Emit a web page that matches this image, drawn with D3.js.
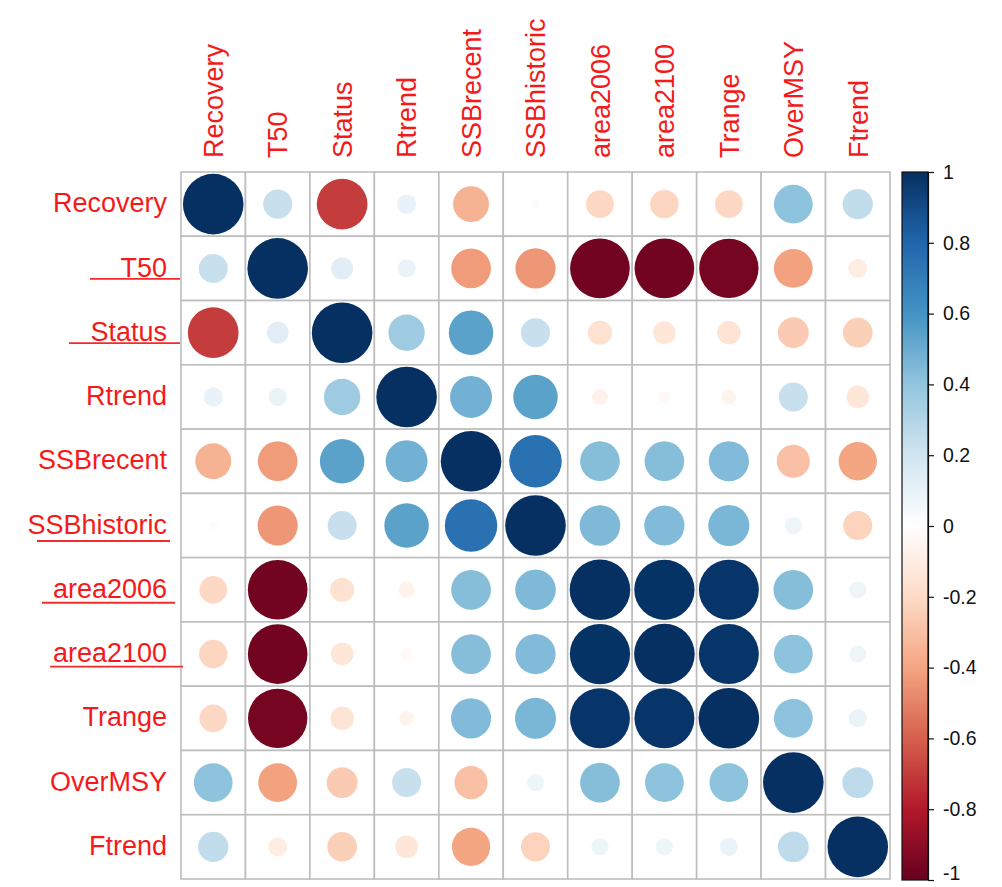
<!DOCTYPE html>
<html>
<head>
<meta charset="utf-8">
<script src="https://cdn.jsdelivr.net/npm/d3@7"></script>
<style>
  html, body { margin: 0; padding: 0; background: #ffffff; }
  svg { display: block; }
</style>
</head>
<body>
<svg id="chart" width="1002" height="887"></svg>
<script>
// Variables of the correlation matrix (row order = column order)
const variables = ["Recovery", "T50", "Status", "Rtrend", "SSBrecent", "SSBhistoric",
                   "area2006", "area2100", "Trange", "OverMSY", "Ftrend"];

// Pearson correlations, one row per variable
const rowRecovery    = [ 1.00,  0.23, -0.70,  0.10, -0.35, -0.02, -0.21, -0.22, -0.21,  0.41,  0.25];
const rowT50         = [ 0.23,  1.00,  0.13,  0.09, -0.43, -0.44, -0.97, -0.97, -0.96, -0.41, -0.10];
const rowStatus      = [-0.70,  0.13,  1.00,  0.36,  0.54,  0.23, -0.16, -0.14, -0.15, -0.26, -0.24];
const rowRtrend      = [ 0.10,  0.09,  0.36,  1.00,  0.48,  0.54, -0.07, -0.04, -0.06,  0.23, -0.14];
const rowSSBrecent   = [-0.35, -0.43,  0.54,  0.48,  1.00,  0.75,  0.43,  0.43,  0.44, -0.30, -0.40];
const rowSSBhistoric = [-0.02, -0.44,  0.23,  0.54,  0.75,  1.00,  0.45,  0.44,  0.46,  0.08, -0.23];
const rowArea2006    = [-0.21, -0.97, -0.16, -0.07,  0.43,  0.45,  1.00,  0.99,  0.98,  0.43,  0.08];
const rowArea2100    = [-0.22, -0.97, -0.14, -0.04,  0.43,  0.44,  0.99,  1.00,  0.98,  0.41,  0.08];
const rowTrange      = [-0.21, -0.96, -0.15, -0.06,  0.44,  0.46,  0.98,  0.98,  1.00,  0.41,  0.09];
const rowOverMSY     = [ 0.41, -0.41, -0.26,  0.23, -0.30,  0.08,  0.43,  0.41,  0.41,  1.00,  0.26];
const rowFtrend      = [ 0.25, -0.10, -0.24, -0.14, -0.40, -0.23,  0.08,  0.08,  0.09,  0.26,  1.00];

const corrRows = [rowRecovery, rowT50, rowStatus, rowRtrend, rowSSBrecent, rowSSBhistoric,
                  rowArea2006, rowArea2100, rowTrange, rowOverMSY, rowFtrend];

// Colour-bar tick labels
const legendTicks = [1, 0.8, 0.6, 0.4, 0.2, 0, -0.2, -0.4, -0.6, -0.8, -1];

// Diverging red-blue palette stops
const paletteStops  = [-1, -0.8, -0.6, -0.4, -0.2, 0, 0.2, 0.4, 0.6, 0.8, 1];
const paletteColors = ["#67001F", "#B2182B", "#D6604D", "#F4A582", "#FDDBC7", "#FFFFFF",
                       "#D1E5F0", "#92C5DE", "#4393C3", "#2166AC", "#053061"];

// Hand-drawn underlines beneath some row labels
const underlined = [
  { name: "T50",         from: 90, to: 180, dy: 10.5 },
  { name: "Status",      from: 69, to: 180, dy: 10.5 },
  { name: "SSBhistoric", from: 37, to: 170, dy: 15.5 },
  { name: "area2006",    from: 42, to: 175, dy: 13 },
  { name: "area2100",    from: 50, to: 183, dy: 12.5 }
];

const cells = [];
corrRows.forEach((row, i) => row.forEach((v, j) => cells.push({ row: variables[i], col: variables[j], value: v })));

const svg = d3.select("#chart");

const gridLeft = 181, gridRight = 890, gridTop = 172, gridBottom = 879;
const x = d3.scaleBand().domain(variables).range([gridLeft, gridRight]);
const y = d3.scaleBand().domain(variables).range([gridTop, gridBottom]);
const color = d3.scaleLinear().domain(paletteStops).range(paletteColors).interpolate(d3.interpolateRgb);
const radius = d => Math.sqrt(Math.abs(d)) * 0.47 * x.bandwidth();

const labelFont = "'Liberation Sans', Arial, Helvetica, sans-serif";

// Cell grid
const grid = svg.append("g");
grid.selectAll("rect")
  .data(cells)
  .join("rect")
  .attr("x", d => x(d.col))
  .attr("y", d => y(d.row))
  .attr("width", x.bandwidth())
  .attr("height", y.bandwidth())
  .attr("fill", "#ffffff")
  .attr("stroke", "#bdbdbd")
  .attr("stroke-width", 1.6);

// Circles: area proportional to |r|, colour by r
svg.append("g").selectAll("circle")
  .data(cells)
  .join("circle")
  .attr("cx", d => x(d.col) + x.bandwidth() / 2)
  .attr("cy", d => y(d.row) + y.bandwidth() / 2)
  .attr("r", d => radius(d.value))
  .attr("fill", d => color(d.value));

// Row labels
svg.append("g").selectAll("text")
  .data(variables)
  .join("text")
  .attr("x", gridLeft - 14)
  .attr("y", d => y(d) + y.bandwidth() / 2)
  .attr("dy", "0.3em")
  .attr("text-anchor", "end")
  .attr("font-family", labelFont)
  .attr("font-size", 27)
  .attr("fill", "#f51a1a")
  .text(d => d);

// Column labels, rotated
svg.append("g").selectAll("text")
  .data(variables)
  .join("text")
  .attr("transform", d => `translate(${x(d) + x.bandwidth() / 2},${gridTop - 14}) rotate(-90)`)
  .attr("dy", "0.36em")
  .attr("text-anchor", "start")
  .attr("font-family", labelFont)
  .attr("font-size", 27)
  .attr("fill", "#f51a1a")
  .text(d => d);

// Underlines
svg.append("g").selectAll("line")
  .data(underlined)
  .join("line")
  .attr("x1", d => d.from)
  .attr("x2", d => d.to)
  .attr("y1", d => y(d.name) + y.bandwidth() / 2 + d.dy)
  .attr("y2", d => y(d.name) + y.bandwidth() / 2 + d.dy)
  .attr("stroke", "#f52a2a")
  .attr("stroke-width", 1.8);

// Colour legend
const barLeft = 902, barWidth = 26, barTop = 172, barBottom = 880;
const legendScale = d3.scaleLinear().domain([-1, 1]).range([barBottom, barTop]);

const defs = svg.append("defs");
const grad = defs.append("linearGradient")
  .attr("id", "corrGradient")
  .attr("x1", 0).attr("y1", 1).attr("x2", 0).attr("y2", 0);
grad.selectAll("stop")
  .data(paletteStops)
  .join("stop")
  .attr("offset", d => (d + 1) / 2)
  .attr("stop-color", d => color(d));

svg.append("rect")
  .attr("x", barLeft)
  .attr("y", barTop)
  .attr("width", barWidth)
  .attr("height", barBottom - barTop)
  .attr("fill", "url(#corrGradient)")
  .attr("stroke", "#111111")
  .attr("stroke-width", 1.2);

const legendAxis = d3.axisRight(legendScale)
  .tickValues(legendTicks)
  .tickSize(6)
  .tickPadding(9)
  .tickFormat(d => String(d));

const axisG = svg.append("g")
  .attr("transform", `translate(${barLeft + barWidth},0)`)
  .call(legendAxis);
axisG.select(".domain").attr("stroke", "#111111").attr("stroke-width", 1.2);
axisG.selectAll(".tick line").attr("stroke", "#111111").attr("stroke-width", 1.2);
axisG.selectAll(".tick text")
  .attr("font-family", labelFont)
  .attr("font-size", 19.5)
  .attr("fill", "#111111")
  // keep the lowest label inside the page
  .attr("dy", d => d === -1 ? "-0.05em" : "0.32em");
</script>
</body>
</html>
